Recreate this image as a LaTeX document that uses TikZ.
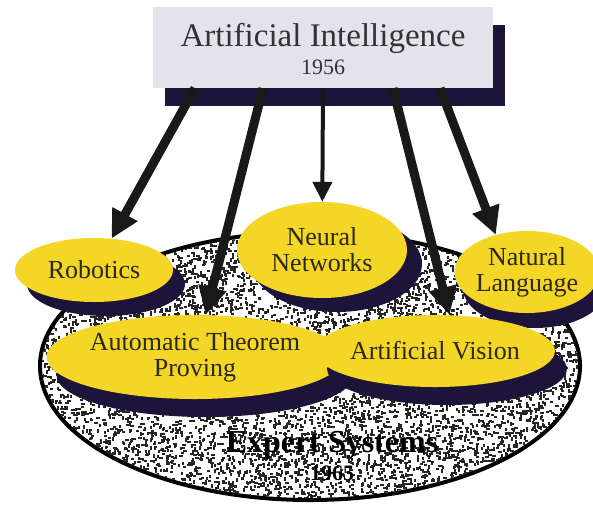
\documentclass[tikz,border=0pt]{standalone}
\usepackage{fontspec}
\setmainfont{Liberation Serif}
\usetikzlibrary{shapes.geometric,shadows,arrows.meta}
\definecolor{yel}{RGB}{244,214,38}
\definecolor{navy}{RGB}{30,20,58}
\definecolor{boxfill}{RGB}{228,226,234}
\definecolor{txt}{RGB}{45,40,20}
\begin{document}
\begin{tikzpicture}[x=1pt,y=-1pt,
  ell/.style 2 args={ellipse, fill=yel, inner sep=0pt, align=center, text=txt,
     font=\fontsize{26}{26}\selectfont,
     general shadow={shadow xshift=#1, shadow yshift=#2, fill=navy}},
  arr/.style={line width=9pt, draw=black!90, -{Triangle[length=28pt,width=27pt]}},
  thinarr/.style={line width=4pt, draw=black!90, -{Triangle[length=20pt,width=19pt]}},
  lbl/.style={align=center, text=txt, inner sep=0pt}]
\useasboundingbox (0,0) rectangle (593,504);
\fill[white] (0,0) rectangle (593,504);

% big stippled ellipse
\node[ellipse, draw=black, line width=4pt, fill=white, minimum width=540pt,
      minimum height=268pt, inner sep=0pt] (es) at (310,366) {};
\begin{scope}
\clip (310,366) ellipse [x radius=268, y radius=132];
\pgfmathsetseed{12}
\foreach \i in {1,...,4300} {\fill[black!85] ({40+540*rnd},{232+270*rnd}) rectangle ++(3.4,2);}
\foreach \i in {1,...,4300} {\fill[black!85] ({40+540*rnd},{232+270*rnd}) rectangle ++(2,3.4);}
\end{scope}
\node[lbl, text=black, font=\fontsize{32}{28}\selectfont\bfseries] (est) at (332,456)
  {Expert Systems\\{\fontsize{22}{22}\selectfont 1965}};

% back row
\node[ell={12pt}{-14pt}, minimum width=158pt, minimum height=64pt] (rob) at (94,270) {Robotics};
\node[ell={15pt}{-14pt}, minimum width=170pt, minimum height=96pt] (nn) at (322,250) {Neural\\Networks};
\node[ell={8pt}{-15pt}, minimum width=144pt, minimum height=82pt] (nl) at (527,272) {Natural\\Language};
% front row
\node[ell={10pt}{-18pt}, minimum width=220pt, minimum height=84pt] (atp) at (195,357) {Automatic Theorem\\Proving};
\node[ell={12pt}{-18pt}, minimum width=216pt, minimum height=72pt] (av) at (435,351) {Artificial Vision};

% top box
\node[fill=boxfill, minimum width=340pt, minimum height=81pt, inner sep=0pt,
      general shadow={shadow xshift=12pt, shadow yshift=-18pt, fill=navy}] (ai) at (323,47.5) {};
\node[lbl, text=black!80, font=\fontsize{33}{33}\selectfont] (ait) at (323,38) {Artificial Intelligence};
\node[lbl, text=black!80, font=\fontsize{22}{22}\selectfont] (aiy) at (323,67) {1956};

% arrows
\draw[arr] ([xshift=-128pt]ai.south) -- (rob);
\draw[arr] ([xshift=-60pt]ai.south) -- (atp);
\draw[thinarr] (ai.south) -- (nn);
\draw[arr] ([xshift=70pt]ai.south) -- (av.68);
\draw[arr] ([xshift=117pt]ai.south) -- (nl.130);
\end{tikzpicture}
\end{document}
